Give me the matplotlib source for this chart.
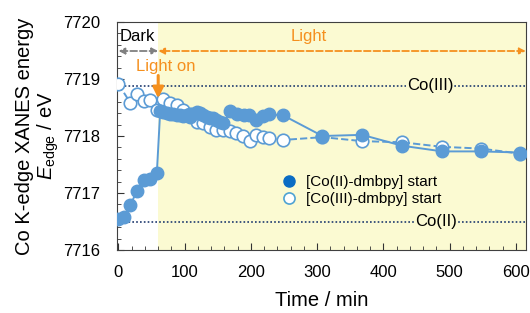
import numpy as np
import matplotlib
matplotlib.use("Agg")
import matplotlib.pyplot as plt
from matplotlib.ticker import MultipleLocator, FormatStrFormatter

plt.rcParams['font.family'] = ['Liberation Sans', 'DejaVu Sans']
plt.rcParams['mathtext.fontset'] = 'custom'
plt.rcParams['mathtext.rm'] = 'Liberation Sans'
plt.rcParams['mathtext.it'] = 'Liberation Sans:italic'

# [Co(II)-dmbpy] start
t_co2 = [0, 8, 18, 28, 38, 48, 58, 63, 68, 73, 78, 83, 88, 93, 98, 103, 108, 113,
         118, 123, 128, 133, 138, 143, 148, 153, 158, 169, 179, 189, 197, 207, 219,
         228, 249, 308, 368, 428, 489, 547, 607]
e_co2 = [7716.54, 7716.58, 7716.79, 7717.04, 7717.23, 7717.25, 7717.36, 7718.43,
         7718.42, 7718.40, 7718.38, 7718.38, 7718.36, 7718.37, 7718.35, 7718.36,
         7718.34, 7718.38, 7718.42, 7718.40, 7718.36, 7718.34, 7718.32, 7718.31,
         7718.28, 7718.24, 7718.22, 7718.43, 7718.38, 7718.36, 7718.37, 7718.28,
         7718.35, 7718.38, 7718.36, 7718.00, 7718.02, 7717.83, 7717.73, 7717.73,
         7717.71]

# [Co(III)-dmbpy] start
t_co3 = [0, 18, 28, 38, 48, 58, 68, 78, 88, 98, 108, 118, 128, 138, 148, 158, 168,
         178, 188, 198, 208, 218, 228, 248, 308, 368, 428, 489, 547, 607]
e_co3 = [7718.91, 7718.58, 7718.74, 7718.62, 7718.63, 7718.45, 7718.65, 7718.57,
         7718.55, 7718.45, 7718.38, 7718.25, 7718.22, 7718.15, 7718.10, 7718.10,
         7718.08, 7718.05, 7718.00, 7717.92, 7718.02, 7717.99, 7717.96, 7717.93,
         7717.98, 7717.91, 7717.89, 7717.81, 7717.78, 7717.69]

e_co3_ref = 7718.88
e_co2_ref = 7716.50
t_light = 60

xmin, xmax = -2, 615
ymin, ymax = 7716, 7720

line_c = '#5b9bd5'
navy = '#1f3a6e'
orange = '#f5901e'
yellow = '#fbfad2'

fig = plt.figure(figsize=(5.30, 3.13), dpi=100)
ax = fig.add_axes([0.221, 0.201, 0.771, 0.729])

ax.axvspan(t_light, xmax, color=yellow, zorder=0, lw=0)

# reference levels
ax.axhline(e_co3_ref, color=navy, ls=(0, (1, 1.3)), lw=1.2, zorder=1)
ax.axhline(e_co2_ref, color=navy, ls=(0, (1, 1.3)), lw=1.2, zorder=1)
ax.text(471, e_co3_ref, 'Co(III)', fontsize=12, ha='center', va='center',
        bbox=dict(facecolor=yellow, edgecolor='none', pad=0.5), zorder=2)
ax.text(480, e_co2_ref, 'Co(II)', fontsize=12, ha='center', va='center',
        bbox=dict(facecolor=yellow, edgecolor='none', pad=0.5), zorder=2)

ax.plot(t_co3, e_co3, ls='--', color=line_c, lw=1.4, marker='o', ms=9,
        mfc='white', mec=line_c, mew=1.2, zorder=3)
ax.plot(t_co2, e_co2, ls='-', color=line_c, lw=1.4, marker='o', ms=9,
        mfc=line_c, mec=line_c, zorder=4)

h1, = ax.plot([], [], ls='none', marker='o', ms=8, mfc='#0a6cc4', mec='#0a6cc4')
h2, = ax.plot([], [], ls='none', marker='o', ms=8, mfc='white', mec='#4fa3d3', mew=1.2)
ax.legend([h1, h2], ['[Co(II)-dmbpy] start', '[Co(III)-dmbpy] start'],
          loc='upper left', bbox_to_anchor=(0.358, 0.375), frameon=False,
          fontsize=11, handletextpad=0.1, labelspacing=0.2, borderpad=0.2)

# dark / light arrows
ax.annotate('', xy=(0, 7719.49), xytext=(t_light, 7719.49),
            arrowprops=dict(arrowstyle='<|-|>', color='#808080', ls='--', lw=1.3,
                            mutation_scale=9, shrinkA=0, shrinkB=0))
ax.annotate('', xy=(t_light, 7719.49), xytext=(xmax, 7719.49),
            arrowprops=dict(arrowstyle='<|-|>', color=orange, ls='--', lw=1.3,
                            mutation_scale=9, shrinkA=0, shrinkB=0))
ax.text(2, 7719.74, 'Dark', fontsize=12, ha='left', va='center')
ax.text(287, 7719.74, 'Light', fontsize=12, ha='center', va='center', color=orange)
ax.text(71, 7719.21, 'Light on', fontsize=12, ha='center', va='center', color=orange)
ax.annotate('', xy=(t_light, 7718.66), xytext=(t_light, 7719.06),
            arrowprops=dict(arrowstyle='-|>', color=orange, lw=2.2,
                            mutation_scale=16, shrinkA=0, shrinkB=0), zorder=6)

ax.set_xlim(xmin, xmax)
ax.set_ylim(ymin, ymax)
ax.xaxis.set_major_locator(MultipleLocator(100))
ax.xaxis.set_minor_locator(MultipleLocator(20))
ax.yaxis.set_major_locator(MultipleLocator(1))
ax.yaxis.set_minor_locator(MultipleLocator(0.2))
ax.yaxis.set_major_formatter(FormatStrFormatter('%d'))
ax.tick_params(which='both', direction='in', top=False, right=False, labelsize=12,
               color='#333333')
ax.tick_params(axis='x', which='major', length=5, pad=11)
ax.tick_params(axis='y', which='major', length=5, pad=12)
ax.tick_params(which='minor', length=3)
for s in ax.spines.values():
    s.set_color('#404040')

ax.set_xlabel('Time / min', fontsize=14.5, labelpad=8)
ax.set_ylabel('Co K-edge XANES energy\n$E_{\\mathrm{edge}}$ / eV', fontsize=14.5,
              linespacing=1.05, labelpad=2)

fig.savefig('out.png', dpi=100)
